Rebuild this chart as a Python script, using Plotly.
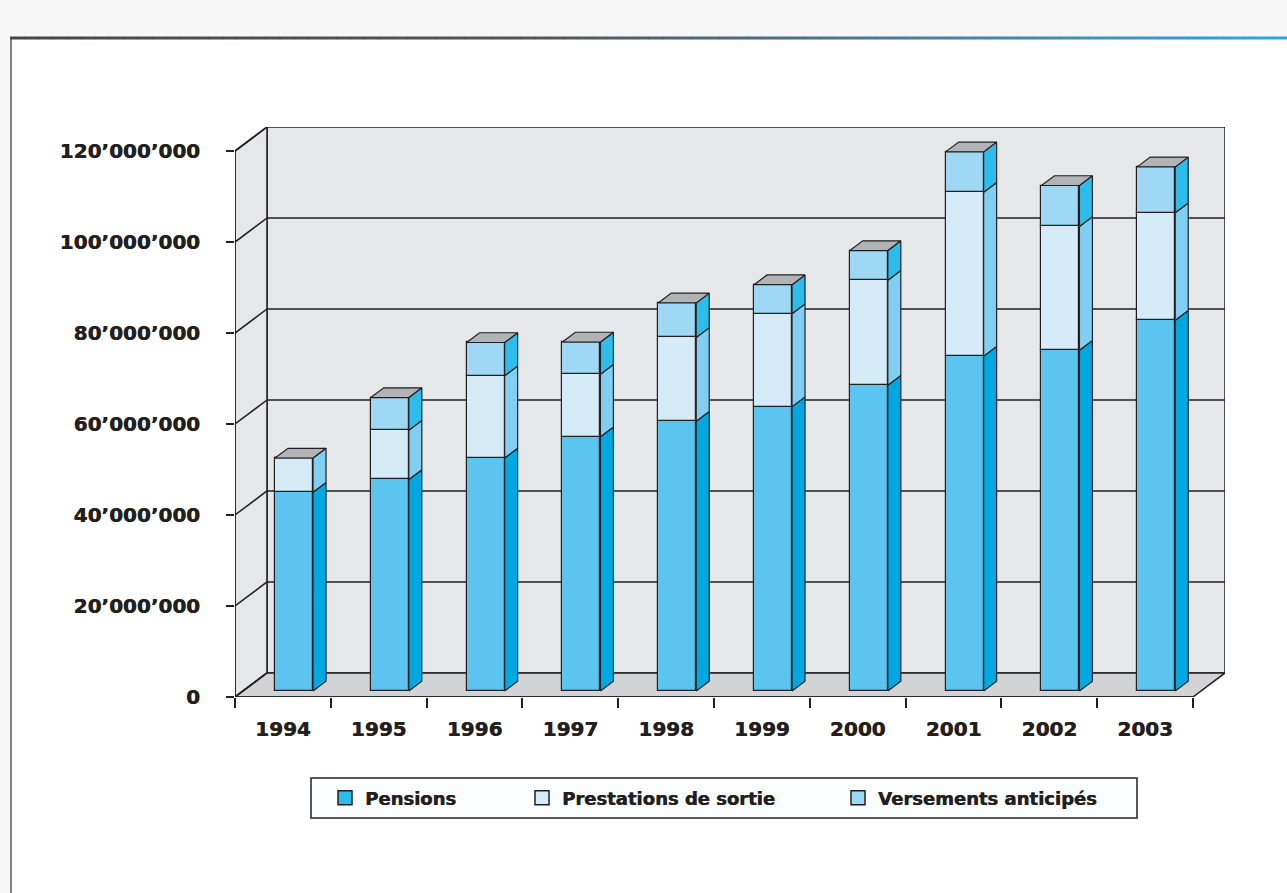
import plotly.graph_objects as go

# ---- data -------------------------------------------------------------
years = ["1994", "1995", "1996", "1997", "1998", "1999", "2000", "2001", "2002", "2003"]
pensions = [43.7e6, 46.5e6, 51.2e6, 55.9e6, 59.3e6, 62.5e6, 67.2e6, 73.6e6, 74.9e6, 81.5e6]
prestations = [7.5e6, 10.8e6, 18.1e6, 13.7e6, 18.4e6, 20.4e6, 23.1e6, 36.0e6, 27.2e6, 23.6e6]
versements = [0.0, 7.2e6, 7.3e6, 7.1e6, 7.6e6, 6.4e6, 6.5e6, 8.9e6, 9.0e6, 10.1e6]
y_ticks = [0, 20e6, 40e6, 60e6, 80e6, 100e6, 120e6]

# name, values, front colour, side colour, legend key colour
series = [
    ("Pensions", pensions, "#5bc4ef", "#00a8e1", "#2dbbea"),
    ("Prestations de sortie", prestations, "#d5ecf8", "#80cef1", "#d5ecf8"),
    ("Versements anticipés", versements, "#9fd8f4", "#2dbdeb", "#9fd8f4"),
]

# ---- page / plot geometry ----------------------------------------------
W, H = 1287, 893
PL, PR, PT, PB = 235, 1225, 127, 697          # plot area in pixels
N = len(years)
Y_MAX = y_ticks[-1]
FRONT_H = 545                                   # pixel height of 0..Y_MAX on the front plane
DEPTH_PX_X, DEPTH_PX_Y = 32, 24                 # oblique depth of the 3-D box
CAT_PX = (PR - PL - DEPTH_PX_X) / N
DX = DEPTH_PX_X / CAT_PX                        # depth expressed in category units
DY = Y_MAX * DEPTH_PX_Y / FRONT_H               # depth expressed in value units

# bar box inside each category (front-plane offsets, depth fractions)
BAR_LEFT, BAR_W = 0.334, 0.397
D0, D1 = 0.25, 0.656

INK = "#231f20"
WALL = "#e6e7e8"
FLOOR = "#d1d3d4"
TOPC = "#b1b3b6"
FONT = "DejaVu Sans"
HEAVY = "0.5px 0 0 #231f20"                     # thickens the bold face a little


def px(x):
    return (x - PL) / (PR - PL)


def py(y):
    return (PB - y) / (PB - PT)


shapes = []

# page frame: light band on top/left, gradient rule, left border
shapes.append(dict(type="rect", xref="paper", yref="paper", x0=px(0), x1=px(W), y0=py(0), y1=py(37),
                   fillcolor="#f7f7f7", line=dict(width=0), layer="below"))
shapes.append(dict(type="rect", xref="paper", yref="paper", x0=px(0), x1=px(10), y0=py(37), y1=py(H),
                   fillcolor="#f7f7f7", line=dict(width=0), layer="below"))
shapes.append(dict(type="line", xref="paper", yref="paper", x0=px(11), x1=px(11), y0=py(37), y1=py(H),
                   line=dict(color="#5a5a5c", width=1.5), layer="below"))

stops = [(0.0, (72, 72, 72)), (0.42, (82, 86, 90)), (0.72, (70, 130, 160)), (1.0, (40, 170, 226))]


def grad(t):
    for (a, ca), (b, cb) in zip(stops[:-1], stops[1:]):
        if a <= t <= b:
            f = (t - a) / (b - a)
            return "rgb(%d,%d,%d)" % tuple(round(ca[k] + (cb[k] - ca[k]) * f) for k in range(3))
    return "rgb(%d,%d,%d)" % stops[-1][1]


segs = 90
x_start, x_end = 10, W
for k in range(segs):
    xa = x_start + (x_end - x_start) * k / segs
    xb = x_start + (x_end - x_start) * (k + 1) / segs + 0.6
    shapes.append(dict(type="line", xref="paper", yref="paper", x0=px(xa), x1=px(xb), y0=py(38), y1=py(38),
                       line=dict(color=grad(k / segs), width=3), layer="below"))

# 3-D box: back wall, side wall, floor
shapes.append(dict(type="rect", xref="x", yref="y", x0=DX, x1=N + DX, y0=DY, y1=Y_MAX + DY,
                   fillcolor=WALL, line=dict(color=INK, width=1.5), layer="below"))
shapes.append(dict(type="path", xref="x", yref="y",
                   path=f"M0,0 L{DX},{DY} L{DX},{Y_MAX + DY} L0,{Y_MAX} Z",
                   fillcolor=WALL, line=dict(color=INK, width=1.5), layer="below"))
shapes.append(dict(type="path", xref="x", yref="y",
                   path=f"M0,0 L{N},0 L{N + DX},{DY} L{DX},{DY} Z",
                   fillcolor=FLOOR, line=dict(color=INK, width=1.5), layer="below"))
# gridlines on the back and side walls
for v in y_ticks[1:-1]:
    shapes.append(dict(type="line", xref="x", yref="y", x0=DX, x1=N + DX, y0=v + DY, y1=v + DY,
                       line=dict(color=INK, width=1.5), layer="below"))
for v in y_ticks:
    shapes.append(dict(type="line", xref="x", yref="y", x0=0, x1=DX, y0=v, y1=v + DY,
                       line=dict(color=INK, width=1.5), layer="below"))
# front edges (value axis and category axis)
shapes.append(dict(type="line", xref="x", yref="y", x0=0, x1=0, y0=0, y1=Y_MAX,
                   line=dict(color=INK, width=1.5), layer="below"))
shapes.append(dict(type="line", xref="x", yref="y", x0=0, x1=N, y0=0, y1=0,
                   line=dict(color=INK, width=1.5), layer="below"))

# legend frame
shapes.append(dict(type="rect", xref="paper", yref="paper", x0=px(311), x1=px(1137), y0=py(778), y1=py(818),
                   fillcolor="#fbfcfd", line=dict(color=INK, width=1.5), layer="below"))

fig = go.Figure()

# ---- stacked 3-D bars ----------------------------------------------------
front_dx = D0 * DX
front_dy = D0 * DY
side_dx = (D1 - D0) * DX
side_dy = (D1 - D0) * DY
x_left = [i + BAR_LEFT + front_dx for i in range(N)]
x_center = [xl + BAR_W / 2 for xl in x_left]

legend_ids = ["legend", "legend2", "legend3"]
cum = [0.0] * N
side_traces = []
for (name, vals, front, side, key), lid in zip(series, legend_ids):
    bases = [c + front_dy for c in cum]
    fig.add_trace(go.Bar(
        x=x_center, y=vals, base=bases, width=BAR_W, name=name, legendgroup=name, showlegend=False,
        marker=dict(color=front, line=dict(color=INK, width=1.2)),
        hoverinfo="skip",
    ))
    # legend key (square swatch)
    fig.add_trace(go.Scatter(
        x=[None], y=[None], mode="markers", name=name, legendgroup=name, legend=lid,
        marker=dict(symbol="square", size=14, color=key, line=dict(color=INK, width=1.5)),
    ))
    sx, sy = [], []
    for i in range(N):
        if vals[i] <= 0:
            continue
        xr = x_left[i] + BAR_W
        b = bases[i]
        t = b + vals[i]
        sx += [xr, xr + side_dx, xr + side_dx, xr, xr, None]
        sy += [b, b + side_dy, t + side_dy, t, b, None]
    side_traces.append((sx, sy, side))
    cum = [c + v for c, v in zip(cum, vals)]

for sx, sy, side in side_traces:
    fig.add_trace(go.Scatter(x=sx, y=sy, mode="lines", fill="toself", fillcolor=side,
                             line=dict(color=INK, width=1.2), showlegend=False, hoverinfo="skip"))

# top faces
tx, ty = [], []
for i in range(N):
    t = cum[i] + front_dy
    xl = x_left[i]
    tx += [xl, xl + BAR_W, xl + BAR_W + side_dx, xl + side_dx, xl, None]
    ty += [t, t, t + side_dy, t + side_dy, t, None]
fig.add_trace(go.Scatter(x=tx, y=ty, mode="lines", fill="toself", fillcolor=TOPC,
                         line=dict(color=INK, width=1.2), showlegend=False, hoverinfo="skip"))

# ---- axes ------------------------------------------------------------------
tick_font = dict(family=FONT, size=20, color=INK, weight="bold", shadow=HEAVY)
fig.update_xaxes(
    range=[0, N + DX], showgrid=False, zeroline=False, showline=False,
    tickmode="array", tickvals=[i + 0.5 for i in range(N)], ticktext=years,
    ticks="", tickfont=tick_font, ticklabelstandoff=18,
    minor=dict(tickmode="array", tickvals=list(range(N + 1)), ticks="outside",
               ticklen=10, tickwidth=1.5, tickcolor=INK, showgrid=False),
    fixedrange=True,
)
fig.update_yaxes(
    range=[0, Y_MAX + DY], showgrid=False, zeroline=False, showline=False,
    tickmode="array", tickvals=y_ticks,
    ticktext=[f"{v:,.0f}".replace(",", "\u2019") for v in y_ticks],
    ticks="outside", ticklen=8, tickwidth=1.5, tickcolor=INK,
    tickfont=tick_font, ticklabelstandoff=22, fixedrange=True,
)

legend_font = dict(family=FONT, size=18, color=INK, weight="bold", shadow=HEAVY)
leg_common = dict(orientation="h", yanchor="middle", xanchor="left", y=py(798),
                  bgcolor="rgba(0,0,0,0)", borderwidth=0, font=legend_font,
                  itemsizing="trace", itemclick=False, itemdoubleclick=False)

fig.update_layout(
    width=W, height=H,
    margin=dict(l=PL, r=W - PR, t=PT, b=H - PB, pad=0),
    paper_bgcolor="white", plot_bgcolor="rgba(0,0,0,0)",
    barmode="overlay", bargap=0,
    shapes=shapes,
    showlegend=True,
    legend=dict(x=px(325), **leg_common),
    legend2=dict(x=px(522), **leg_common),
    legend3=dict(x=px(838), **leg_common),
)

fig.write_html("out.html")
